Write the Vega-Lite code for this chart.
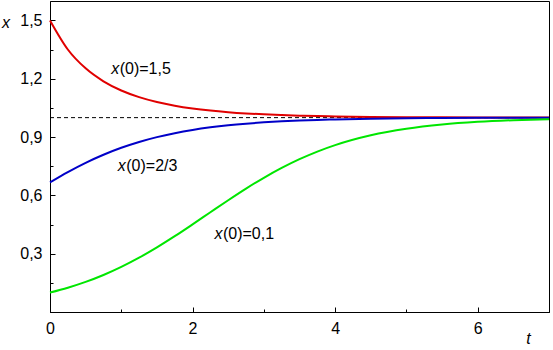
{
  "$schema": "https://vega.github.io/schema/vega-lite/v6.json",
  "autosize": "none",
  "width": 499,
  "height": 311,
  "padding": {"left": 50, "top": 1, "right": 4, "bottom": 38},
  "background": "white",
  "config": {
    "view": {"stroke": "black", "strokeWidth": 1},
    "font": "Liberation Sans",
    "axis": {
      "grid": false,
      "domainColor": "black",
      "tickColor": "black",
      "labelColor": "black",
      "labelFont": "Liberation Sans",
      "labelFontSize": 16,
      "titleFont": "Liberation Sans",
      "titleFontSize": 16,
      "titleFontStyle": "italic",
      "titleFontWeight": "normal",
      "titleColor": "black"
    }
  },
  "datasets": {
    "curves": [
      {"t": 0, "x": 1.5, "s": "r"}, {"t": 0.25, "x": 1.3506, "s": "r"}, {"t": 0.5, "x": 1.2534, "s": "r"}, {"t": 0.75, "x": 1.1869, "s": "r"},
      {"t": 1, "x": 1.1397, "s": "r"}, {"t": 1.25, "x": 1.1056, "s": "r"}, {"t": 1.5, "x": 1.0804, "s": "r"}, {"t": 1.75, "x": 1.0615, "s": "r"},
      {"t": 2, "x": 1.0472, "s": "r"}, {"t": 2.25, "x": 1.0364, "s": "r"}, {"t": 2.5, "x": 1.0282, "s": "r"}, {"t": 2.75, "x": 1.0218, "s": "r"},
      {"t": 3, "x": 1.0169, "s": "r"}, {"t": 3.25, "x": 1.0131, "s": "r"}, {"t": 3.5, "x": 1.0102, "s": "r"}, {"t": 3.75, "x": 1.0079, "s": "r"},
      {"t": 4, "x": 1.0061, "s": "r"}, {"t": 4.5, "x": 1.0037, "s": "r"}, {"t": 5, "x": 1.0023, "s": "r"}, {"t": 5.5, "x": 1.0014, "s": "r"},
      {"t": 6, "x": 1.0008, "s": "r"}, {"t": 6.5, "x": 1.0005, "s": "r"}, {"t": 7, "x": 1.0003, "s": "r"},
      {"t": 0, "x": 0.6667, "s": "b"}, {"t": 0.25, "x": 0.7197, "s": "b"}, {"t": 0.5, "x": 0.7673, "s": "b"}, {"t": 0.75, "x": 0.8089, "s": "b"},
      {"t": 1, "x": 0.8447, "s": "b"}, {"t": 1.25, "x": 0.8747, "s": "b"}, {"t": 1.5, "x": 0.8996, "s": "b"}, {"t": 1.75, "x": 0.92, "s": "b"},
      {"t": 2, "x": 0.9366, "s": "b"}, {"t": 2.25, "x": 0.9499, "s": "b"}, {"t": 2.5, "x": 0.9606, "s": "b"}, {"t": 2.75, "x": 0.969, "s": "b"},
      {"t": 3, "x": 0.9757, "s": "b"}, {"t": 3.25, "x": 0.981, "s": "b"}, {"t": 3.5, "x": 0.9851, "s": "b"}, {"t": 3.75, "x": 0.9884, "s": "b"},
      {"t": 4, "x": 0.9909, "s": "b"}, {"t": 4.5, "x": 0.9945, "s": "b"}, {"t": 5, "x": 0.9966, "s": "b"}, {"t": 5.5, "x": 0.998, "s": "b"},
      {"t": 6, "x": 0.9988, "s": "b"}, {"t": 6.5, "x": 0.9993, "s": "b"}, {"t": 7, "x": 0.9995, "s": "b"},
      {"t": 0, "x": 0.1, "s": "g"}, {"t": 0.25, "x": 0.1249, "s": "g"}, {"t": 0.5, "x": 0.1548, "s": "g"}, {"t": 0.75, "x": 0.1904, "s": "g"},
      {"t": 1, "x": 0.232, "s": "g"}, {"t": 1.25, "x": 0.2794, "s": "g"}, {"t": 1.5, "x": 0.3325, "s": "g"}, {"t": 1.75, "x": 0.39, "s": "g"},
      {"t": 2, "x": 0.4509, "s": "g"}, {"t": 2.25, "x": 0.5132, "s": "g"}, {"t": 2.5, "x": 0.5751, "s": "g"}, {"t": 2.75, "x": 0.6349, "s": "g"},
      {"t": 3, "x": 0.6905, "s": "g"}, {"t": 3.25, "x": 0.7412, "s": "g"}, {"t": 3.5, "x": 0.7863, "s": "g"}, {"t": 3.75, "x": 0.8254, "s": "g"},
      {"t": 4, "x": 0.8586, "s": "g"}, {"t": 4.5, "x": 0.9092, "s": "g"}, {"t": 5, "x": 0.9428, "s": "g"}, {"t": 5.5, "x": 0.9645, "s": "g"},
      {"t": 6, "x": 0.9782, "s": "g"}, {"t": 6.5, "x": 0.9867, "s": "g"}, {"t": 7, "x": 0.9919, "s": "g"}
    ],
    "labels": [
      {"t": 0.858, "x": 1.224, "pre": "x", "rest": "(0)=1,5"},
      {"t": 0.951, "x": 0.725, "pre": "x", "rest": "(0)=2/3"},
      {"t": 2.307, "x": 0.3755, "pre": "x", "rest": "(0)=0,1"}
    ],
    "eq": [{"t": 0, "t2": 7, "x": 1}]
  },
  "encoding": {
    "x": {
      "field": "t", "type": "quantitative",
      "scale": {"domain": [0, 7], "nice": false},
      "axis": {
        "title": "t",
        "titleAngle": 0,
        "titleAlign": "center",
        "titleBaseline": "alphabetic",
        "titleX": 478,
        "titleY": 31,
        "values": [0, 1, 2, 3, 4, 5, 6, 7],
        "format": "d",
        "labelExpr": "datum.value % 2 === 0 ? datum.label : ''",
        "tickSize": {"condition": {"test": "datum.value % 2 === 0", "value": -5}, "value": -3},
        "labelPadding": 13,
        "labelFlush": false,
        "labelOverlap": false
      }
    },
    "y": {
      "field": "x", "type": "quantitative",
      "scale": {"domain": [0, 1.6], "nice": false, "zero": false},
      "axis": {
        "title": "x",
        "titleAngle": 0,
        "titleAlign": "center",
        "titleBaseline": "alphabetic",
        "titleX": -44.5,
        "titleY": 26,
        "values": [0.15, 0.3, 0.45, 0.6, 0.75, 0.9, 1.05, 1.2, 1.35, 1.5],
        "format": ".1f",
        "labelExpr": "indexof([30, 60, 90, 120, 150], round(datum.value * 100)) >= 0 ? replace(datum.label, '.', ',') : ''",
        "tickSize": {"condition": {"test": "indexof([30, 60, 90, 120, 150], round(datum.value * 100)) >= 0", "value": -5}, "value": -3},
        "labelPadding": 13,
        "labelFlush": false,
        "labelOverlap": false
      }
    }
  },
  "layer": [
    {
      "data": {"name": "eq"},
      "mark": {"type": "rule", "color": "black", "strokeWidth": 1, "strokeDash": [4, 3]},
      "encoding": {
        "x2": {"field": "t2"}
      }
    },
    {
      "data": {"name": "curves"},
      "mark": {"type": "line", "strokeWidth": 2, "interpolate": "monotone"},
      "encoding": {
        "color": {
          "field": "s", "type": "nominal",
          "scale": {"domain": ["r", "b", "g"], "range": ["#e00000", "#0000c8", "#00e600"]},
          "legend": null
        },
        "order": {"field": "t", "type": "quantitative"}
      }
    },
    {
      "data": {"name": "labels"},
      "mark": {"type": "text", "align": "left", "baseline": "alphabetic", "fontSize": 16, "fontStyle": "italic", "font": "Liberation Sans", "color": "black"},
      "encoding": {
        "text": {"field": "pre"}
      }
    },
    {
      "data": {"name": "labels"},
      "mark": {"type": "text", "align": "left", "baseline": "alphabetic", "fontSize": 16, "font": "Liberation Sans", "color": "black", "dx": 8.5},
      "encoding": {
        "text": {"field": "rest"}
      }
    }
  ]
}
